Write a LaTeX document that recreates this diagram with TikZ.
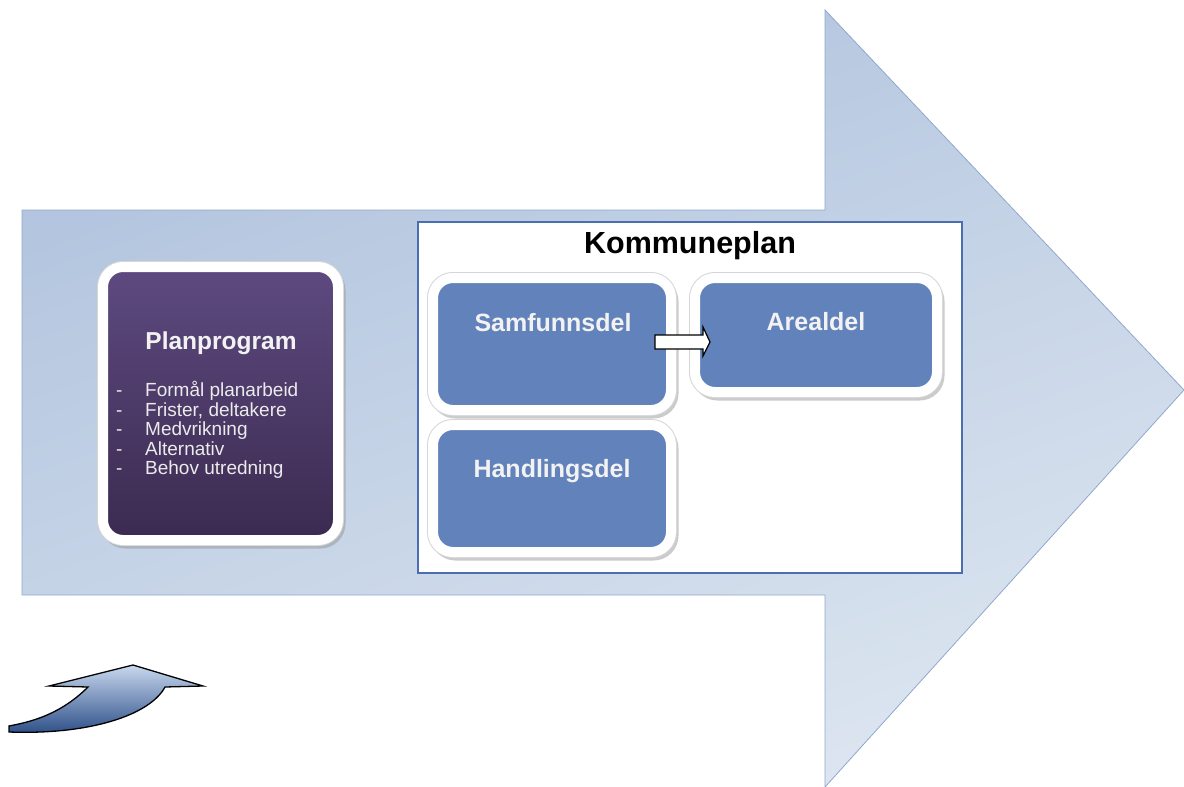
\documentclass[tikz,border=0pt]{standalone}
\usepackage{fontspec}
\setmainfont{Liberation Sans}
\usetikzlibrary{calc}
\definecolor{arrowTop}{HTML}{AFC2DD}
\definecolor{arrowBot}{HTML}{DCE5F0}
\definecolor{arrowLine}{HTML}{90A8CC}
\definecolor{kpLine}{HTML}{4A6EB0}
\definecolor{ppTop}{HTML}{5E4A80}
\definecolor{ppBot}{HTML}{3B2A50}
\definecolor{partFill}{HTML}{6282BB}
\definecolor{curveTop}{HTML}{C8D8EE}
\definecolor{curveBot}{HTML}{2A4C86}
\tikzset{
  framed/.style={rounded corners=20pt, draw=white, line width=10pt,
    preaction={draw=black!45, line width=10pt, opacity=0.45,
      transform canvas={shift={(2.5pt,-3.5pt)}}},
    preaction={draw=black!16, line width=12pt},
    inner sep=0pt},
  partbox/.style={framed, fill=partFill},
  parttext/.style={text=white!95!black, font=\bfseries\fontsize{25}{30}\selectfont},
}
\begin{document}
\begin{tikzpicture}[x=1pt,y=-1pt]
\useasboundingbox (0,0) rectangle (1184,787);
% big arrow
\shade[top color=arrowTop, bottom color=arrowBot, shading angle=20, draw=arrowLine, line width=0.8pt]
  (22,210) -- (825,210) -- (825,10) -- (1184,390) -- (825,787) -- (825,595) -- (22,595) -- cycle;
% kommuneplan frame
\node[draw=kpLine, line width=1.4pt, fill=white, minimum width=544pt, minimum height=351pt, inner sep=0pt] (kp) at (690,397.5) {};
\node[font=\bfseries\fontsize{30.5}{36}\selectfont] (kptitle) at (690,246) {Kommuneplan};
% planprogram
\node[framed, top color=ppTop, bottom color=ppBot, minimum width=235pt, minimum height=273pt] (pp) at (220.5,403.5) {};
\node[parttext, font=\bfseries\fontsize{24.5}{29}\selectfont] (pptitle) at (221,343) {Planprogram};
\node[text=white!92!black, font=\fontsize{19}{19.5}\selectfont, align=left, anchor=west, inner sep=0pt] (pplist) at (116,430)
 {\makebox[29pt][l]{-}Formål planarbeid\\
  \makebox[29pt][l]{-}Frister, deltakere\\
  \makebox[29pt][l]{-}Medvrikning\\
  \makebox[29pt][l]{-}Alternativ\\
  \makebox[29pt][l]{-}Behov utredning};
% parts
\node[partbox, minimum width=238pt, minimum height=132pt] (samf) at (552,344) {};
\node[partbox, minimum width=242pt, minimum height=114pt] (areal) at (816,335) {};
\node[partbox, minimum width=238pt, minimum height=127pt] (handl) at (552,488.5) {};
\node[parttext] (samft) at (553,323) {Samfunnsdel};
\node[parttext] (arealt) at (816,322) {Arealdel};
\node[parttext] (handlt) at (552,471) {Handlingsdel};
% small block arrow samf -> areal
\coordinate (sa) at ($(samf.east)+(-21,-2)$);
\coordinate (sb) at ($(areal.west)+(20,7)$);
\draw[fill=white, line width=1.2pt, line join=miter]
  ($(sa)+(0,-7)$) -- ($(sa)+(48,-7)$) -- ($(sa)+(48,-15)$) -- (sb |- sa) -- ($(sa)+(48,14)$) -- ($(sa)+(48,7)$) -- ($(sa)+(0,7)$) -- cycle;
% curved arrow bottom-left
\shade[top color=curveTop, bottom color=curveBot, draw=black, line width=1.3pt, line join=miter]
  (9,732) .. controls (90,735) and (150,715) .. (165,687) -- (203,686) -- (133,665) -- (49,686) -- (88,687)
  .. controls (60,715) and (30,722) .. (9,726) -- cycle;
\end{tikzpicture}
\end{document}
